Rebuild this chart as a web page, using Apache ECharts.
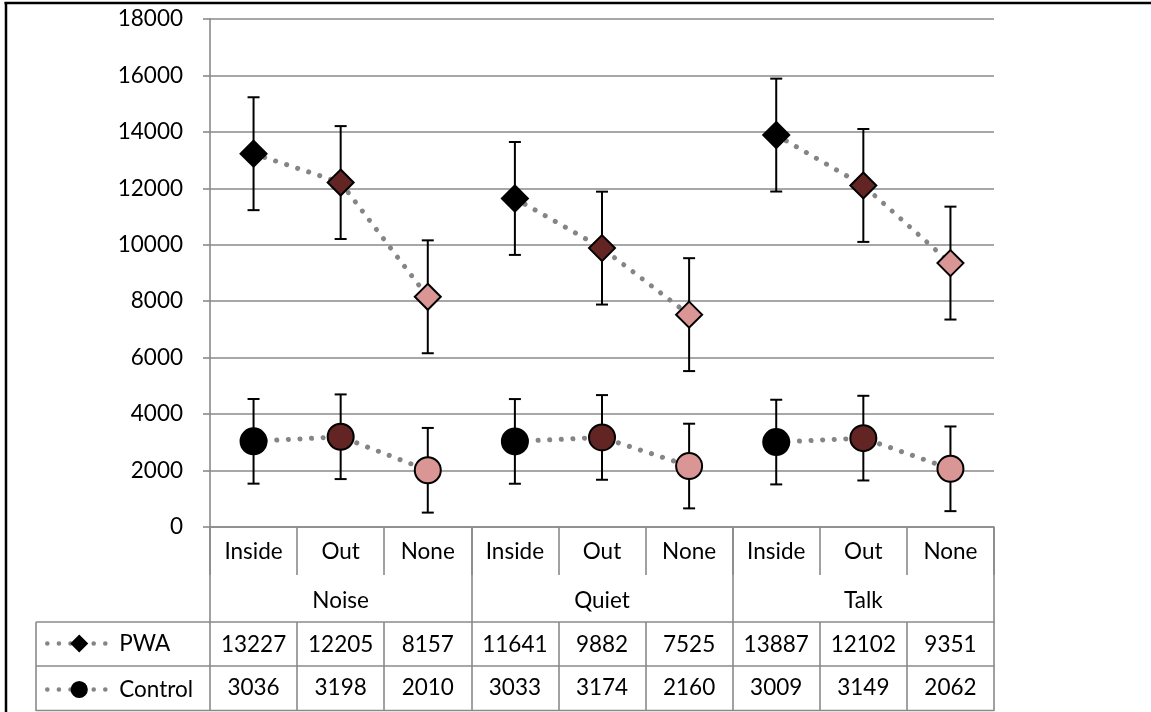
<!DOCTYPE html>
<html><head><meta charset="utf-8">
<script src="https://cdn.jsdelivr.net/npm/echarts@6/dist/echarts.min.js"></script>
<style>html,body{margin:0;padding:0;background:#fff}#c{width:1151px;height:712px}</style>
</head><body><div id="c"></div>
<script>
// ---- data ----
const categories = ['Inside','Out','None','Inside','Out','None','Inside','Out','None'];
const groups = ['Noise','Quiet','Talk'];
const groupOfCategory = [0,0,0,1,1,1,2,2,2];
const seriesNames = ['PWA','Control'];
const pwa = [13227,12205,8157,11641,9882,7525,13887,12102,9351];
const control = [3036,3198,2010,3033,3174,2160,3009,3149,2062];
const pwaErr = [2000,2000,2000,2000,2000,2000,2000,2000,2000];
const controlErr = [1500,1500,1500,1500,1500,1500,1500,1500,1500];
const yMin = 0, yMax = 18000, yStep = 2000;

// ---- styles ----
const FONT = 'Lato';
const FS = 22.5;
const GRAY = '#8a8a8a';
const DOT = '#858585';
const conditionColors = {Inside:'#000000', Out:'#632523', None:'#D99694'};

const chart = echarts.init(document.getElementById('c'), null, {renderer:'canvas'});

function errRender(params, api){
  const x = api.value(0);
  const lo = api.coord([x, api.value(1)]);
  const hi = api.coord([x, api.value(2)]);
  const w = 6;
  const style = {stroke:'#000', lineWidth:2};
  return {type:'group', children:[
    {type:'line', shape:{x1:lo[0], y1:lo[1], x2:hi[0], y2:hi[1]}, style:style},
    {type:'line', shape:{x1:lo[0]-w, y1:lo[1], x2:lo[0]+w, y2:lo[1]}, style:style},
    {type:'line', shape:{x1:hi[0]-w, y1:hi[1], x2:hi[0]+w, y2:hi[1]}, style:style}
  ]};
}

const labelBase = {color:'#000', fontSize:FS, fontFamily:FONT, interval:0};
const lineBase = {color:GRAY, width:1.6};

// one line series per group so the dotted line breaks between groups
function lineSeries(name, values, symbol, size){
  return groups.map((g, gi) => ({
    name:name, type:'line', xAxisIndex:0, yAxisIndex:0, z:3,
    symbol:symbol, symbolSize:size, showAllSymbol:true, connectNulls:false,
    itemStyle:{color:'#000', borderColor:'#000', borderWidth:2},
    lineStyle:{color:DOT, width:5, type:[0.1, 11.5], cap:'round'},
    data: values.map((v,i)=> groupOfCategory[i] === gi
      ? {value:v, itemStyle:{color:conditionColors[categories[i]]}}
      : '-'),
    emphasis:{disabled:true}
  }));
}

const option = {
  animation:false,
  backgroundColor:'#fff',
  grid:{left:210, right:157, top:19, bottom:185, containLabel:false},
  legend:{
    data:seriesNames, orient:'vertical', left:45, top:632, padding:0,
    itemWidth:64, itemHeight:19, itemGap:23, selectedMode:false,
    textStyle:{fontSize:FS, fontFamily:FONT, color:'#000', padding:[0,0,0,3]},
    lineStyle:{width:4.5}
  },
  xAxis:[
    {type:'category', data:categories, position:'bottom', offset:0,
     axisLine:{show:true, onZero:false, lineStyle:lineBase},
     axisTick:{show:true, interval:0, length:48, lineStyle:lineBase},
     axisLabel:Object.assign({margin:13}, labelBase), splitLine:{show:false}},
    {type:'category', data:groups, position:'bottom', offset:0,
     axisLine:{show:false, onZero:false},
     axisTick:{show:true, interval:0, length:95, lineStyle:lineBase},
     axisLabel:Object.assign({margin:62}, labelBase), splitLine:{show:false}},
    {type:'category', data:pwa.map(String), position:'bottom', offset:95,
     axisLine:{show:true, onZero:false, lineStyle:lineBase},
     axisTick:{show:true, interval:0, length:44, lineStyle:lineBase},
     axisLabel:Object.assign({margin:11}, labelBase), splitLine:{show:false}},
    {type:'category', data:control.map(String), position:'bottom', offset:139,
     axisLine:{show:true, onZero:false, lineStyle:lineBase},
     axisTick:{show:true, interval:0, length:45, lineStyle:lineBase},
     axisLabel:Object.assign({margin:10}, labelBase), splitLine:{show:false}}
  ],
  yAxis:{type:'value', min:yMin, max:yMax, interval:yStep,
    axisLine:{show:true, lineStyle:lineBase},
    axisTick:{show:true, length:7, lineStyle:lineBase},
    splitLine:{show:true, lineStyle:lineBase},
    axisLabel:{color:'#000', fontSize:FS, fontFamily:FONT, margin:27, formatter:v=>String(v)}
  },
  series:[
    {type:'custom', name:'PWA err', xAxisIndex:0, yAxisIndex:0, z:2, renderItem:errRender,
     encode:{x:0, y:[1,2]}, data:pwa.map((v,i)=>[i, v-pwaErr[i], v+pwaErr[i]]), silent:true},
    {type:'custom', name:'Control err', xAxisIndex:0, yAxisIndex:0, z:2, renderItem:errRender,
     encode:{x:0, y:[1,2]}, data:control.map((v,i)=>[i, v-controlErr[i], v+controlErr[i]]), silent:true}
  ].concat(lineSeries('PWA', pwa, 'diamond', 26), lineSeries('Control', control, 'circle', 26)),
  graphic:[
    {type:'line', shape:{x1:4.5, y1:3, x2:1151, y2:3}, style:{stroke:'#000', lineWidth:2.5}},
    {type:'line', shape:{x1:6, y1:2, x2:6, y2:712}, style:{stroke:'#000', lineWidth:2.5}},
    {type:'line', shape:{x1:36, y1:622, x2:210, y2:622}, style:{stroke:GRAY, lineWidth:1.6}},
    {type:'line', shape:{x1:36, y1:666, x2:210, y2:666}, style:{stroke:GRAY, lineWidth:1.6}},
    {type:'line', shape:{x1:36, y1:710.5, x2:994, y2:710.5}, style:{stroke:GRAY, lineWidth:1.6}},
    {type:'line', shape:{x1:36, y1:622, x2:36, y2:711}, style:{stroke:GRAY, lineWidth:1.6}}
  ]
};
chart.setOption(option);
</script></body></html>
